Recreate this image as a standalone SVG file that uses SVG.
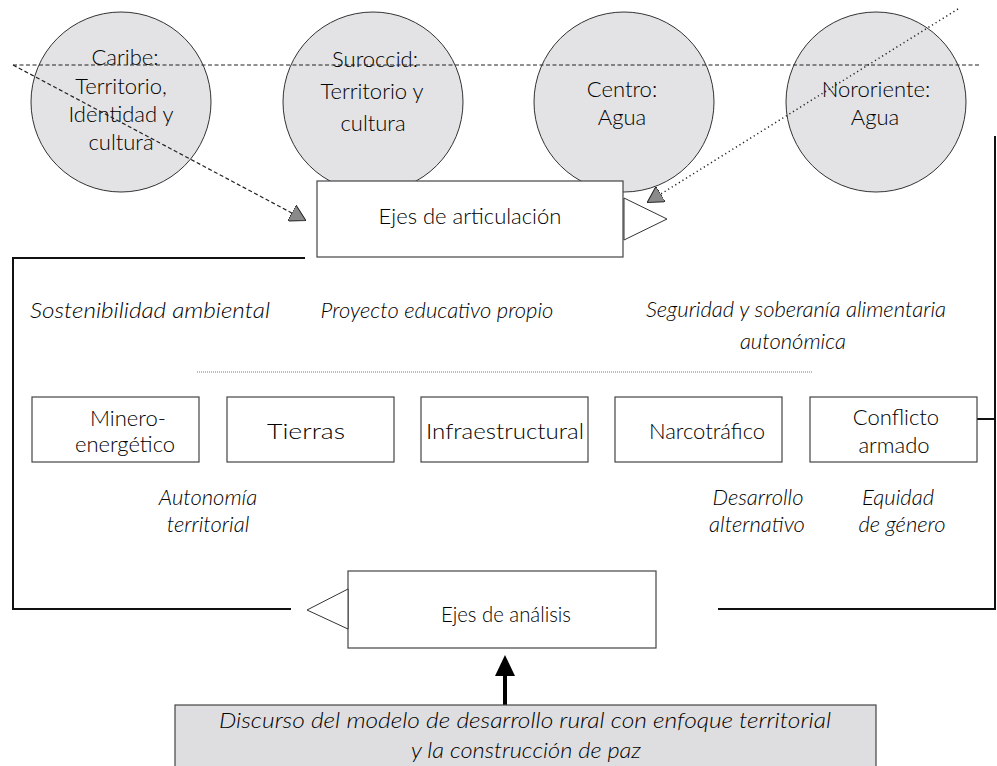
<svg xmlns="http://www.w3.org/2000/svg" width="997" height="766" viewBox="0 0 997 766">
  <defs>
    <style>
      .bg { fill: #ffffff; }
      .region { fill: #e3e3e5; stroke: #333; stroke-width: 1; }
      .box { fill: #ffffff; stroke: #444; stroke-width: 1.2; }
      .base { fill: #dedee0; stroke: #444; stroke-width: 1.2; }
      .lbl { font-family: Lato, "Open Sans", sans-serif; font-weight: 300; fill: #000; text-anchor: middle; }
      .rg { font-size: 22px; }
      .bx { font-size: 22px; }
      .it { font-family: Lato, "Open Sans", sans-serif; font-style: italic; font-weight: 300; font-size: 22px; fill: #000; text-anchor: middle; }
      .frame { fill: none; stroke: #111; stroke-width: 2; }
      .dash { fill: none; stroke: #222; stroke-width: 1.2; stroke-dasharray: 4 2.5; }
      .dots { fill: none; stroke: #222; stroke-width: 1.5; stroke-dasharray: 1.2 3; }
      .fine { fill: none; stroke: #777; stroke-width: 1; stroke-dasharray: 1 1; }
      .opentip { fill: #ffffff; stroke: #333; stroke-width: 1; }
    </style>
    <marker id="grayhead" viewBox="0 0 16 18" refX="15" refY="9" markerWidth="16" markerHeight="18" markerUnits="userSpaceOnUse" orient="auto">
      <path d="M0,0 L16,9 L0,18 Z" fill="#8a8a8a" stroke="#222" stroke-width="1"/>
    </marker>
  </defs>

  <rect class="bg" x="0" y="0" width="997" height="766"/>

  <!-- regional circles -->
  <g id="caribe">
    <circle class="region" cx="121" cy="102" r="90"/>
    <text class="lbl rg" x="125" y="65">Caribe:</text>
    <text class="lbl rg" x="121" y="94">Territorio,</text>
    <text class="lbl rg" x="121" y="122">Identidad y</text>
    <text class="lbl rg" x="121" y="150">cultura</text>
  </g>
  <g id="suroccid">
    <circle class="region" cx="373" cy="102" r="90"/>
    <text class="lbl rg" x="375" y="67">Suroccid:</text>
    <text class="lbl rg" x="372" y="99">Territorio y</text>
    <text class="lbl rg" x="373" y="131">cultura</text>
  </g>
  <g id="centro">
    <circle class="region" cx="624" cy="102" r="90"/>
    <text class="lbl rg" x="622" y="97">Centro:</text>
    <text class="lbl rg" x="622" y="125">Agua</text>
  </g>
  <g id="nororiente">
    <circle class="region" cx="876" cy="102" r="90"/>
    <text class="lbl rg" x="876" y="97">Nororiente:</text>
    <text class="lbl rg" x="875" y="125">Agua</text>
  </g>

  <!-- connectors -->
  <g id="connectors">
    <line class="dash" x1="13" y1="65" x2="979" y2="65"/>
    <line class="dash" x1="13" y1="65" x2="305" y2="220" marker-end="url(#grayhead)"/>
    <line class="dots" x1="958" y1="9" x2="648" y2="202" marker-end="url(#grayhead)"/>
    <path class="frame" d="M305,258 H13 V609 H291"/>
    <path class="frame" d="M718,609 H995 V136"/>
    <line class="frame" x1="977" y1="419" x2="995" y2="419"/>
    <line class="fine" x1="197" y1="372" x2="812" y2="372"/>
    <line x1="505" y1="705" x2="505" y2="672" stroke="#000" stroke-width="4"/>
    <polygon points="495,676 515,676 505,655" fill="#000"/>
  </g>

  <!-- articulation axes -->
  <g id="ejes-articulacion">
    <rect class="box" x="317" y="181" width="306" height="76"/>
    <polygon class="opentip" points="624,198 667,219 624,240"/>
    <text class="lbl bx" x="470" y="224">Ejes de articulación</text>
  </g>

  <g id="ejes-tematicos">
    <text class="it" x="150" y="318" textLength="240" lengthAdjust="spacingAndGlyphs">Sostenibilidad ambiental</text>
    <text class="it" x="437" y="318">Proyecto educativo propio</text>
    <text class="it" x="796" y="317">Seguridad y soberanía alimentaria</text>
    <text class="it" x="793" y="349">autonómica</text>
    <text class="it" x="208" y="505">Autonomía</text>
    <text class="it" x="208" y="532">territorial</text>
    <text class="it" x="758" y="505">Desarrollo</text>
    <text class="it" x="757" y="532">alternativo</text>
    <text class="it" x="898" y="505">Equidad</text>
    <text class="it" x="902" y="532">de género</text>
  </g>

  <!-- analysis dimensions -->
  <g id="minero">
    <rect class="box" x="32" y="397" width="167" height="65"/>
    <text class="lbl bx" x="128" y="426">Minero-</text>
    <text class="lbl bx" x="125" y="452">energético</text>
  </g>
  <g id="tierras">
    <rect class="box" x="227" y="397" width="167" height="65"/>
    <text class="lbl bx" x="306" y="439" textLength="78" lengthAdjust="spacingAndGlyphs">Tierras</text>
  </g>
  <g id="infraestructural">
    <rect class="box" x="421" y="397" width="167" height="65"/>
    <text class="lbl bx" x="505" y="439" textLength="158" lengthAdjust="spacingAndGlyphs">Infraestructural</text>
  </g>
  <g id="narcotrafico">
    <rect class="box" x="615" y="397" width="167" height="65"/>
    <text class="lbl bx" x="707" y="439">Narcotráfico</text>
  </g>
  <g id="conflicto">
    <rect class="box" x="810" y="397" width="167" height="65"/>
    <text class="lbl bx" x="896" y="425">Conflicto</text>
    <text class="lbl bx" x="894" y="453">armado</text>
  </g>

  <g id="ejes-analisis">
    <rect class="box" x="348" y="571" width="308" height="77"/>
    <polygon class="opentip" points="348,589 307,610 348,629"/>
    <text class="lbl bx" x="506" y="622" textLength="130" lengthAdjust="spacingAndGlyphs">Ejes de análisis</text>
  </g>

  <g id="discurso">
    <rect class="base" x="175" y="705" width="701" height="80"/>
    <text class="it" x="525" y="728" textLength="612" lengthAdjust="spacingAndGlyphs">Discurso del modelo de desarrollo rural con enfoque territorial</text>
    <text class="it" x="526" y="758" textLength="230" lengthAdjust="spacingAndGlyphs">y la construcción de paz</text>
  </g>
</svg>
